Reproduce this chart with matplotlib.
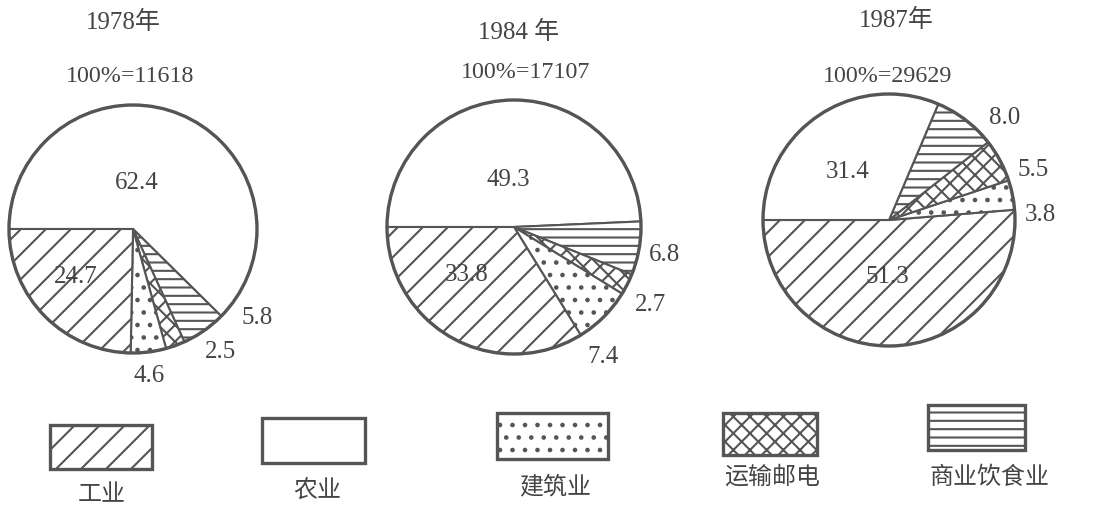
import matplotlib
matplotlib.use('Agg')
import matplotlib.pyplot as plt
from matplotlib.patches import Rectangle, Circle

# ---------------- data ----------------
sectors = ['工业', '农业', '建筑业', '运输邮电', '商业饮食业']
years = ['1978年', '1984 年', '1987年']
totals = [11618, 17107, 29629]
share_1978 = [24.7, 62.4, 4.6, 2.5, 5.8]
share_1984 = [33.8, 49.3, 7.4, 2.7, 6.8]
share_1987 = [51.3, 31.4, 3.8, 5.5, 8.0]

# ---------------- style / layout ----------------
W, H, DPI = 1108, 512, 150
LINE = '#555555'
TXT = '#444444'
hatches = ['//', '', '..', 'xxx', '---']
NUM_FONT = ['Liberation Serif', 'Noto Sans CJK SC']
CJK_FONT = ['Noto Sans CJK SC', 'DejaVu Sans']

plt.rcParams['hatch.color'] = LINE
plt.rcParams['hatch.linewidth'] = 1.0

fig = plt.figure(figsize=(W / DPI, H / DPI), dpi=DPI)
ax = fig.add_axes([0, 0, 1, 1])

pies = [
    dict(vals=share_1978, order=[1, 4, 3, 2, 0], c=(133, 229), r=124, start=180, ccw=False,
         title=(123, 22), total=(130, 77),
         labels={1: (137, 183), 0: (76, 277), 4: (257, 318), 3: (220, 352), 2: (149, 376)}),
    dict(vals=share_1984, order=[1, 4, 3, 2, 0], c=(514, 227), r=127, start=180, ccw=False,
         title=(519, 32), total=(526, 72),
         labels={1: (508, 180), 0: (467, 275), 4: (665, 255), 3: (650, 305), 2: (603, 357)}),
    dict(vals=share_1987, order=[0, 2, 3, 4, 1], c=(889, 220), r=126, start=180, ccw=True,
         title=(896, 20), total=(888, 77),
         labels={1: (848, 172), 0: (887, 277), 4: (1005, 118), 3: (1033, 170), 2: (1040, 215)}),
]

for p, yr, tot in zip(pies, years, totals):
    vals = [p['vals'][i] for i in p['order']]
    cx, cy = p['c']
    ax.pie(vals, center=(cx, H - cy), radius=p['r'], startangle=p['start'],
           counterclock=p['ccw'], colors=['white'] * len(vals),
           hatch=[hatches[i] for i in p['order']],
           wedgeprops=dict(edgecolor=LINE, linewidth=1.0), frame=True)
    ax.add_patch(Circle((cx, H - cy), p['r'], fill=False, edgecolor=LINE, linewidth=1.6, zorder=5))
    ax.text(p['title'][0], H - p['title'][1], yr, ha='center', va='center',
            fontsize=12, color=TXT, family=NUM_FONT)
    ax.text(p['total'][0], H - p['total'][1], f'100%={tot}', ha='center', va='center',
            fontsize=11.5, color=TXT, family=NUM_FONT)
    for i, (lx, ly) in p['labels'].items():
        ax.text(lx, H - ly, f'{p["vals"][i]:.1f}', ha='center', va='center',
                fontsize=12, color=TXT, family=NUM_FONT, zorder=6)

# legend boxes
legend_boxes = [(50, 425, 102, 44), (262, 418, 103, 45), (497, 413, 111, 46),
                (723, 413, 94, 42), (928, 405, 97, 45)]
legend_text = [(102, 495), (317, 490), (555, 487), (772, 477), (990, 477)]
for name, h, (x, y, w, hh), (tx, ty) in zip(sectors, hatches, legend_boxes, legend_text):
    ax.add_patch(Rectangle((x, H - y - hh), w, hh, facecolor='white', edgecolor=LINE,
                           hatch=h, linewidth=1.6))
    ax.text(tx, H - ty, name, ha='center', va='center', fontsize=11.5, color=TXT, family=CJK_FONT)

ax.set_xlim(0, W)
ax.set_ylim(0, H)
ax.set_aspect('equal')
ax.axis('off')
fig.savefig('out.png', dpi=DPI, facecolor='white')
